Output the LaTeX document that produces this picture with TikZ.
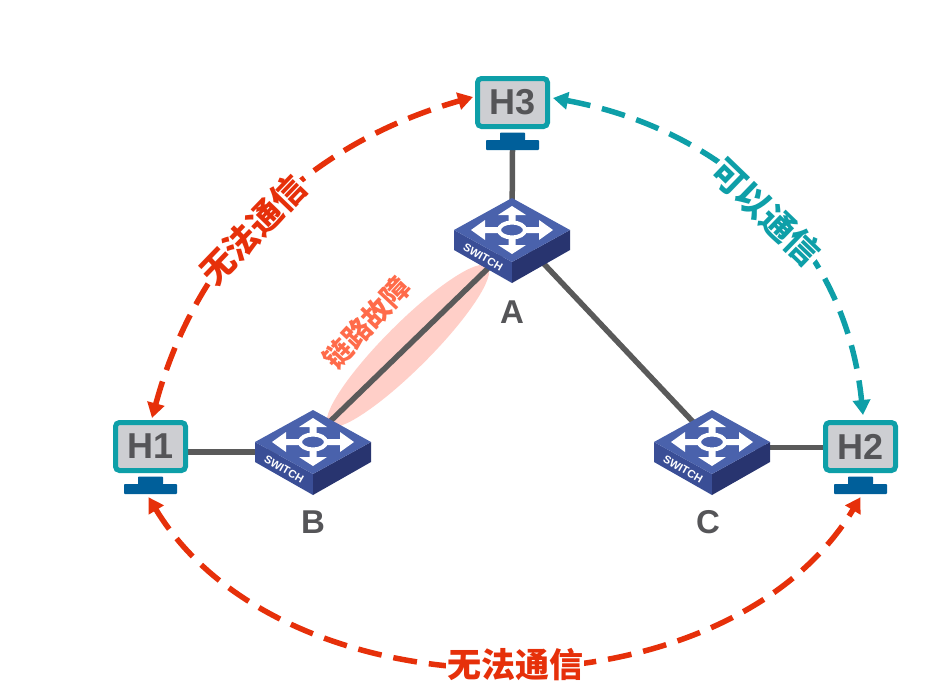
\documentclass[tikz,border=0pt]{standalone}
\usepackage{fontspec}
\setmainfont{Liberation Sans}
\newfontfamily\cjk{Noto Sans CJK SC}
\usetikzlibrary{arrows.meta,shapes.geometric,backgrounds}
\definecolor{tealc}{HTML}{0E9FA8}
\definecolor{screenc}{HTML}{CDCED2}
\definecolor{standc}{HTML}{005F9A}
\definecolor{linkc}{HTML}{5A5A5A}
\definecolor{redc}{HTML}{E6300A}
\definecolor{faultc}{HTML}{FF6B4A}
\definecolor{haloc}{HTML}{FFCFC8}
\definecolor{swtop}{HTML}{4A62AC}
\definecolor{swleft}{HTML}{3A4E96}
\definecolor{swright}{HTML}{28346F}
\definecolor{textc}{HTML}{555558}
\tikzset{
  linkline/.style={draw=linkc,line width=5.5pt},
  monitorbox/.style={draw=tealc,fill=screenc,line width=5pt,rounded corners=4pt,minimum width=70pt,minimum height=48pt,inner sep=0pt,text=textc,font=\fontsize{36}{36}\selectfont\bfseries},
  standpart/.style={fill=standc,rounded corners=0.8pt,inner sep=0pt},
  swnode/.style={diamond,aspect=1.8,minimum width=116pt,minimum height=64pt,inner sep=0pt},
  swlabel/.style={text=textc,font=\fontsize{33}{33}\selectfont\bfseries},
  dasharc/.style={line width=5.5pt,dash pattern=on 24pt off 12pt,{Triangle[length=15pt,width=17pt]}-{Triangle[length=15pt,width=17pt]}},
  arclabel/.style={fill=white,inner sep=1pt,font=\fontsize{34}{34}\selectfont\cjk\bfseries},
}
\newcommand{\monitorat}[3]{%
  \node[monitorbox] (#1) at (#2,#3) {#1};
  \node[standpart,minimum width=25pt,minimum height=8pt] (#1neck) at (#2,#3+34) {};
  \node[standpart,minimum width=53pt,minimum height=10pt] (#1base) at (#2,#3+42.5) {};
}
\newcommand{\switchat}[3]{%
  \node[swnode] (#1) at (#2,#3) {};
  \begin{scope}[shift={(#2,#3)}]
    \fill[swleft] (-58,0) -- (0,32) -- (0,53) -- (-58,20) -- cycle;
    \fill[swright] (58,0) -- (0,32) -- (0,53) -- (58,20) -- cycle;
    \fill[swtop] (-58,0) -- (0,-32) -- (58,0) -- (0,32) -- cycle;
    \fill[white] (-41,0) -- (-27,-10) -- (-27,-3) -- (27,-3) -- (27,-10) -- (41,0) -- (27,10) -- (27,3) -- (-27,3) -- (-27,10) -- cycle;
    \fill[white] (0,-24) -- (14,-15) -- (3.5,-15) -- (3.5,15) -- (14,15) -- (0,24) -- (-14,15) -- (-3.5,15) -- (-3.5,-15) -- (-14,-15) -- cycle;
    \draw[white,line width=4pt,fill=swtop] (0,0) ellipse (13 and 7.5);
    \node[text=white,rotate=-30,inner sep=0pt,font=\fontsize{11}{11}\selectfont\bfseries] (#1tag) at (-29,27) {SWITCH};
  \end{scope}
}
\begin{document}
\begin{tikzpicture}[x=1pt,y=-1pt]
\useasboundingbox (0,0) rectangle (944,696);
\monitorat{H3}{512.5}{102.5}
\monitorat{H1}{150.5}{446.5}
\monitorat{H2}{860.5}{446.5}
\begin{pgfonlayer}{background}
  \node[ellipse,fill=haloc,rotate=45,minimum width=225pt,minimum height=46pt,inner sep=0pt] (fault) at (408,346) {};
\end{pgfonlayer}
\switchat{A}{512}{230}
\switchat{B}{313}{442}
\switchat{C}{712}{442}
\begin{pgfonlayer}{background}
  \draw[linkline] (H3base.south) -- (A.center);
  \draw[linkline] ([yshift=4pt]B.center) -- ([yshift=-15pt]A.center);
  \draw[linkline] (A.center) -- (C.center);
  \draw[linkline] ([yshift=-5.5pt]H1.east) -- ([yshift=-10pt]B.center);
  \draw[linkline] ([yshift=-5.5pt]C.center) -- ([yshift=-1pt]H2.west);
\end{pgfonlayer}
\node[swlabel] (la) at (512,312) {A};
\node[swlabel] (lb) at (313,522) {B};
\node[swlabel] (lc) at (708,522) {C};
\draw[dasharc,color=redc] ([xshift=1.5pt,yshift=2pt]H1.north) .. controls (198,248) and (311,143) .. ([yshift=5.5pt,xshift=-2pt]H3.west);
\draw[dasharc,color=tealc] ([xshift=3pt,yshift=4.5pt]H3.east) .. controls (716,128) and (845,235) .. ([xshift=2.5pt,yshift=5pt]H2.north);
\draw[dasharc,color=redc] ([xshift=-2pt,yshift=-3pt]H1base.south) .. controls (285,722) and (725,722) .. ([yshift=-3pt]H2base.south);
\node[arclabel,text=redc,rotate=46] (t1) at (253,230) {无法通信};
\node[arclabel,text=tealc,rotate=-44] (t2) at (766,212) {可以通信};
\node[arclabel,text=redc] (t3) at (515,665) {无法通信};
\node[text=faultc,rotate=47,inner sep=1pt,font=\fontsize{28}{28}\selectfont\cjk\bfseries] (t4) at (367,323) {链路故障};
\end{tikzpicture}
\end{document}
